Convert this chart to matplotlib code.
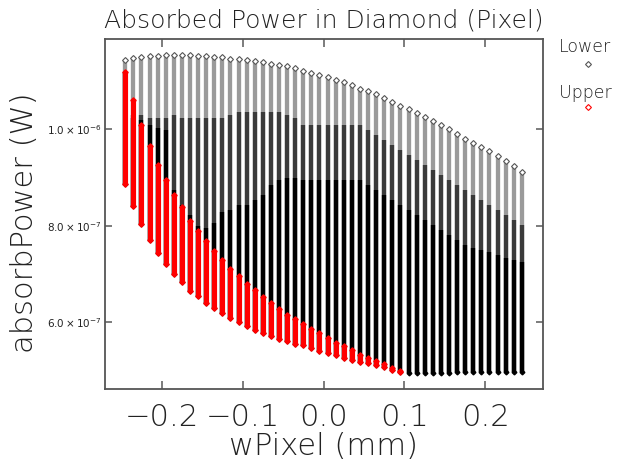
import numpy as np
import matplotlib
matplotlib.use("Agg")
import matplotlib.pyplot as plt
from matplotlib import font_manager
from matplotlib.lines import Line2D

# wPixel column positions (mm)
w_pixel = np.round(np.arange(-0.245, 0.25, 0.01), 3)

# Lower: top of each column (W, x1e-7)
lower_hi = [11.43, 11.47, 11.49, 11.50, 11.51, 11.52, 11.52, 11.52, 11.52, 11.51,
            11.50, 11.49, 11.48, 11.45, 11.44, 11.43, 11.40, 11.39, 11.35, 11.33,
            11.29, 11.25, 11.19, 11.16, 11.12, 11.08, 11.02, 10.96, 10.90, 10.83,
            10.78, 10.72, 10.63, 10.56, 10.48, 10.41, 10.33, 10.25, 10.16, 10.08,
            9.99, 9.89, 9.80, 9.71, 9.63, 9.54, 9.44, 9.33, 9.23, 9.10]
# Lower: points start to crowd (mixed grey/black)
lower_mix = [11.18, 10.29, 10.29, 10.23, 10.23, 10.23, 10.29, 10.23, 10.23, 10.23,
             10.23, 10.23, 10.23, 10.29, 10.35, 10.35, 10.35, 10.35, 10.35, 10.35,
             10.29, 10.23, 10.08, 10.08, 10.08, 10.08, 10.08, 10.08, 10.08, 10.08,
             9.98, 9.88, 9.77, 9.67, 9.57, 9.46, 9.36, 9.26, 9.15, 9.05,
             8.94, 8.84, 8.74, 8.63, 8.53, 8.43, 8.32, 8.22, 8.12, 8.01]
# Lower: column is solid below this
lower_dense = [11.18, 10.23, 10.19, 10.08, 10.02, 9.98, 8.74, 8.43, 8.22, 7.99,
               7.95, 8.06, 8.28, 8.32, 8.43, 8.43, 8.53, 8.63, 8.84, 8.94,
               8.99, 8.99, 8.94, 8.94, 8.94, 8.94, 8.94, 8.94, 8.94, 8.94,
               8.84, 8.74, 8.63, 8.53, 8.43, 8.32, 8.22, 8.12, 8.01, 7.91,
               7.81, 7.70, 7.60, 7.54, 7.50, 7.46, 7.39, 7.33, 7.29, 7.25]
# Lower: bottom of each column
lower_lo = [8.85, 8.40, 8.04, 7.71, 7.43, 7.21, 7.00, 6.83, 6.65, 6.54,
            6.40, 6.30, 6.19, 6.09, 6.01, 5.92, 5.85, 5.78, 5.71, 5.66,
            5.61, 5.56, 5.54, 5.47, 5.41, 5.37, 5.32, 5.26, 5.23, 5.19,
            5.16, 5.11, 5.07, 5.02, 4.97, 4.96, 4.96, 4.96, 4.96, 4.96,
            4.96, 4.97, 4.97, 4.97, 4.97, 4.98, 4.98, 4.98, 4.98, 4.98]

# Upper: only the first 35 columns have points
upper_hi = [11.18, 10.60, 10.08, 9.65, 9.26, 8.95, 8.63, 8.39, 8.10, 7.89,
            7.68, 7.47, 7.29, 7.10, 6.96, 6.80, 6.67, 6.53, 6.41, 6.28,
            6.16, 6.07, 5.97, 5.87, 5.77, 5.68, 5.58, 5.51, 5.42, 5.33,
            5.26, 5.20, 5.13, 5.06, 4.99]
upper_lo = [8.85, 8.40, 8.04, 7.71, 7.43, 7.21, 7.00, 6.83, 6.65, 6.54,
            6.40, 6.30, 6.19, 6.09, 6.01, 5.92, 5.85, 5.78, 5.71, 5.66,
            5.61, 5.56, 5.54, 5.47, 5.41, 5.37, 5.32, 5.26, 5.23, 5.19,
            5.16, 5.11, 5.07, 5.02, 4.97]

scale = 1e-7
x = w_pixel
lhi = np.array(lower_hi) * scale
lmix = np.array(lower_mix) * scale
lden = np.array(lower_dense) * scale
llo = np.array(lower_lo) * scale
xu = w_pixel[:len(upper_hi)]
uhi = np.array(upper_hi) * scale
ulo = np.array(upper_lo) * scale

# thin-stroke font if one is installed
family, weight = "DejaVu Sans", "normal"
faces = [(f.name, f.weight) for f in font_manager.fontManager.ttflist]
for name in ["DejaVu Sans", "Open Sans", "Roboto", "Lato", "Inter", "Noto Sans"]:
    thin = [w for n, w in faces if n == name and isinstance(w, int) and w <= 300]
    if thin:
        family, weight = name, max(thin)
        break
plt.rcParams["font.family"] = [family, "DejaVu Sans"]
txt = "#222222"

fig = plt.figure(figsize=(6.19, 4.63), dpi=100)
ax = fig.add_axes([0.169, 0.159, 0.708, 0.757])

# Lower: sparse top in grey, crowded middle dark, dense bottom black
ax.vlines(x, llo, lhi, color="#9a9a9a", lw=3.1, zorder=2)
ax.vlines(x, llo, lmix, color="#3a3a3a", lw=3.1, zorder=3)
ax.vlines(x, llo, lden, color="black", lw=3.1, zorder=3)
ax.plot(x, lhi, ls="none", marker="D", ms=3.0, mfc="white", mec="#555555",
        mew=0.8, zorder=4)
ax.plot(x, llo, ls="none", marker="D", ms=2.4, color="black", zorder=3)

# Upper drawn on top in red
ax.vlines(xu, ulo, uhi, color="#ff0000", lw=3.7, zorder=5)
ax.plot(xu, uhi, ls="none", marker="D", ms=2.7, color="#ff0000", zorder=5)
ax.plot(xu, ulo, ls="none", marker="D", ms=2.7, color="#ff0000", zorder=5)

ax.set_xlim(-0.2705, 0.271)
ax.set_ylim(4.614e-7, 1.186e-6)
ax.set_xticks([-0.2, -0.1, 0.0, 0.1, 0.2])
ax.set_xticklabels(["\u22120.2", "\u22120.1", "0.0", "0.1", "0.2"])
ax.set_yticks([6e-7, 8e-7, 1e-6])
ax.set_yticklabels([r"$6.0\times10^{-7}$", r"$8.0\times10^{-7}$",
                    r"$1.0\times10^{-6}$"])
ax.tick_params(axis="x", direction="in", top=True, length=6, width=1.2,
               color="#666666", labelsize=22, labelcolor=txt, pad=10)
ax.tick_params(axis="y", direction="in", right=True, length=5, width=1.2,
               color="#666666", labelsize=7.5, labelcolor=txt, pad=2)
for lab in ax.get_xticklabels():
    lab.set_fontweight(weight)
for s in ax.spines.values():
    s.set_color("#555555")
    s.set_linewidth(1.3)

ax.set_title("Absorbed Power in Diamond (Pixel)", fontsize=18, color=txt, pad=8,
             fontweight=weight)
ax.set_xlabel("wPixel (mm)", fontsize=22, color=txt, labelpad=0, fontweight=weight)
ax.set_ylabel("absorbPower (W)", fontsize=22, color=txt, fontweight=weight)
ax.yaxis.set_label_coords(-0.15, 0.475)

# legend on the right, text above each sample marker
fig.text(0.945, 0.898, "Lower", fontsize=12.5, color=txt, ha="center", va="center",
         fontweight=weight)
fig.add_artist(Line2D([0.950], [0.862], marker="D", ms=3, mfc="white",
                      mec="#555555", mew=0.8, ls="none", transform=fig.transFigure))
fig.text(0.945, 0.800, "Upper", fontsize=12.5, color=txt, ha="center", va="center",
         fontweight=weight)
fig.add_artist(Line2D([0.950], [0.768], marker="D", ms=3, mfc="white",
                      mec="#ff0000", mew=0.8, ls="none", transform=fig.transFigure))

fig.savefig("out.png", dpi=100)
